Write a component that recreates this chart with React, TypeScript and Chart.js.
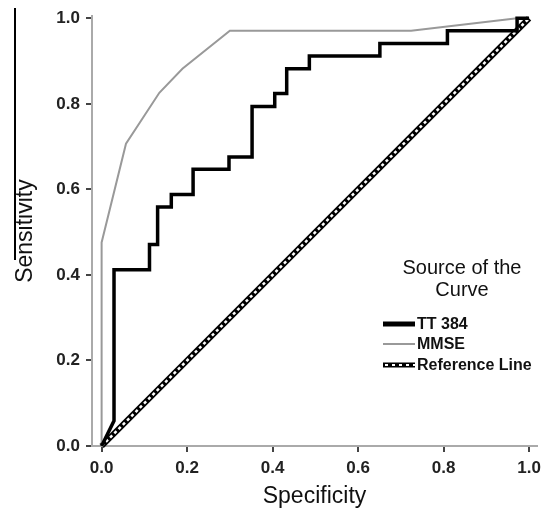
import React, { useEffect, useRef } from "react";
import { Chart, registerables } from "chart.js";

Chart.register(...registerables);

// TT 384 ROC curve corners (specificity axis value, sensitivity)
const ttSpec = [0, 0.029, 0.029, 0.112, 0.112, 0.131, 0.131, 0.163, 0.163, 0.214, 0.214, 0.298, 0.298, 0.352, 0.352, 0.405, 0.405, 0.433, 0.433, 0.486, 0.486, 0.651, 0.651, 0.809, 0.809, 0.972, 0.972, 1.0];
const ttSens = [0, 0.059, 0.412, 0.412, 0.471, 0.471, 0.559, 0.559, 0.588, 0.588, 0.647, 0.647, 0.676, 0.676, 0.794, 0.794, 0.824, 0.824, 0.882, 0.882, 0.912, 0.912, 0.941, 0.941, 0.971, 0.971, 1.0, 1.0];

// MMSE ROC curve
const mmseSpec = [0, 0, 0.057, 0.135, 0.189, 0.3, 0.724, 0.972, 1.0];
const mmseSens = [0, 0.476, 0.707, 0.826, 0.882, 0.971, 0.971, 1.0, 1.0];

// Reference line
const refSpec = [0, 1];
const refSens = [0, 1];

const tickValues = [0, 0.2, 0.4, 0.6, 0.8, 1.0];
const legendTitle = ["Source of the", "Curve"];
const seriesNames = ["TT 384", "MMSE", "Reference Line"];
const xTitle = "Specificity";
const yTitle = "Sensitivity";

const FONT = '"Liberation Sans", Arial, sans-serif';

const toPts = (xs: number[], ys: number[]) => xs.map((x, i) => ({ x, y: ys[i] }));

const legendPlugin = {
  id: "rocLegend",
  afterDraw(chart: any) {
    const ctx = chart.ctx as CanvasRenderingContext2D;
    ctx.save();
    ctx.fillStyle = "#111";
    ctx.textAlign = "center";
    ctx.textBaseline = "middle";
    ctx.font = `20px ${FONT}`;
    ctx.fillText(legendTitle[0], 462, 268);
    ctx.fillText(legendTitle[1], 462, 290);

    const x0 = 383;
    const x1 = 415;
    const rows = [324, 344, 365];
    ctx.lineCap = "butt";
    ctx.strokeStyle = "#000";
    ctx.lineWidth = 5;
    ctx.beginPath();
    ctx.moveTo(x0, rows[0]);
    ctx.lineTo(x1, rows[0]);
    ctx.stroke();
    ctx.strokeStyle = "#999";
    ctx.lineWidth = 2;
    ctx.beginPath();
    ctx.moveTo(x0, rows[1]);
    ctx.lineTo(x1, rows[1]);
    ctx.stroke();
    ctx.strokeStyle = "#000";
    ctx.lineWidth = 5;
    ctx.beginPath();
    ctx.moveTo(x0, rows[2]);
    ctx.lineTo(x1, rows[2]);
    ctx.stroke();
    ctx.strokeStyle = "#fff";
    ctx.lineWidth = 2;
    ctx.setLineDash([3, 4]);
    ctx.beginPath();
    ctx.moveTo(x0 + 2, rows[2]);
    ctx.lineTo(x1, rows[2]);
    ctx.stroke();
    ctx.setLineDash([]);

    ctx.fillStyle = "#111";
    ctx.textAlign = "left";
    ctx.font = `bold 16px ${FONT}`;
    seriesNames.forEach((n, i) => ctx.fillText(n, 417, rows[i] + 1));
    ctx.restore();
  },
};

export default function App() {
  const ref = useRef<HTMLCanvasElement | null>(null);

  useEffect(() => {
    if (!ref.current) return;
    const chart = new Chart(ref.current, {
      type: "scatter",
      data: {
        datasets: [
          {
            label: seriesNames[2] + " base",
            data: toPts(refSpec, refSens),
            showLine: true,
            borderColor: "#000",
            borderWidth: 6,
            pointRadius: 0,
            clip: false as any,
            order: 4,
          },
          {
            label: seriesNames[2],
            data: toPts(refSpec, refSens),
            showLine: true,
            borderColor: "#fff",
            borderWidth: 2.5,
            borderDash: [3, 3],
            pointRadius: 0,
            clip: false as any,
            order: 3,
          },
          {
            label: seriesNames[1],
            data: toPts(mmseSpec, mmseSens),
            showLine: true,
            borderColor: "#999",
            borderWidth: 2,
            pointRadius: 0,
            clip: false as any,
            order: 2,
          },
          {
            label: seriesNames[0],
            data: toPts(ttSpec, ttSens),
            showLine: true,
            borderColor: "#000",
            borderWidth: 3.5,
            borderJoinStyle: "miter",
            pointRadius: 0,
            clip: false as any,
            order: 1,
          },
        ],
      },
      options: {
        responsive: false,
        animation: false,
        layout: { padding: { top: 15, right: 7, left: 0, bottom: 0 } },
        plugins: { legend: { display: false }, tooltip: { enabled: false } },
        scales: {
          x: {
            type: "linear",
            min: -0.0225,
            max: 1.0186,
            afterFit: (s: any) => {
              s.height = 68;
            },
            afterBuildTicks: (s: any) => {
              s.ticks = tickValues.map((v) => ({ value: v }));
            },
            border: { display: true, color: "#aaa", width: 2 },
            grid: { drawOnChartArea: false, drawTicks: true, tickLength: 6, color: "#444", lineWidth: 2 },
            ticks: {
              padding: 6,
              color: "#222",
              font: { family: FONT, size: 17, weight: "bold" },
              callback: (v: any) => Number(v).toFixed(1),
            },
            title: {
              display: true,
              text: xTitle,
              color: "#111",
              font: { family: FONT, size: 23 },
              padding: { top: 0, bottom: 4 },
            },
          },
          y: {
            type: "linear",
            min: 0,
            max: 1.005,
            afterFit: (s: any) => {
              s.width = 92;
            },
            afterBuildTicks: (s: any) => {
              s.ticks = tickValues.map((v) => ({ value: v }));
            },
            border: { display: true, color: "#aaa", width: 2 },
            grid: { drawOnChartArea: false, drawTicks: true, tickLength: 6, color: "#444", lineWidth: 2 },
            ticks: {
              padding: 6,
              color: "#222",
              font: { family: FONT, size: 17, weight: "bold" },
              callback: (v: any) => Number(v).toFixed(1),
            },
            title: {
              display: true,
              text: yTitle,
              color: "#111",
              font: { family: FONT, size: 23 },
              padding: { top: 12, bottom: 0 },
            },
          },
        },
      },
      plugins: [legendPlugin],
    });
    return () => chart.destroy();
  }, []);

  return (
    <div style={{ position: "fixed", left: 0, top: 0, width: 547, height: 514, background: "#fff" }}>
      <canvas ref={ref} width={547} height={514} style={{ width: 547, height: 514, display: "block" }} />
      <div style={{ position: "absolute", left: 14, top: 8, width: 1.5, height: 252, background: "#000" }} />
    </div>
  );
}
